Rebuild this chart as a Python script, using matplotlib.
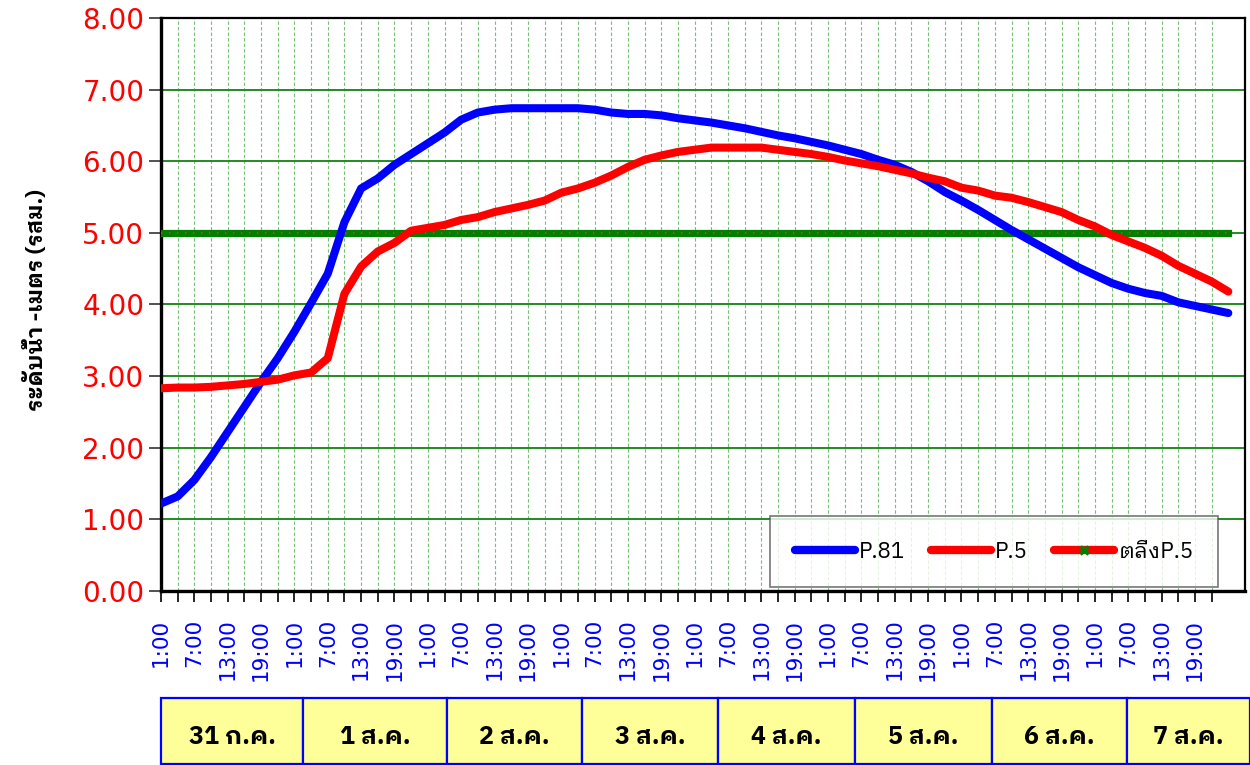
import numpy as np
import matplotlib
matplotlib.use('Agg')
import matplotlib.pyplot as plt
from matplotlib import font_manager
from matplotlib.ft2font import FT2Font
from matplotlib.lines import Line2D
from matplotlib.patches import Rectangle

# hours after 1:00 on 31 Jul, one reading every 3 hours
hours = np.arange(0, 193, 3)

p81 = [1.22, 1.32, 1.55, 1.87, 2.22, 2.57, 2.92, 3.25, 3.62, 4.02, 4.43, 5.15,
       5.62, 5.76, 5.95, 6.10, 6.25, 6.40, 6.58, 6.68, 6.72, 6.74, 6.74, 6.74,
       6.74, 6.74, 6.72, 6.68, 6.66, 6.66, 6.64, 6.60, 6.57, 6.54, 6.50, 6.46,
       6.41, 6.36, 6.32, 6.27, 6.22, 6.16, 6.10, 6.02, 5.95, 5.85, 5.72, 5.57,
       5.45, 5.32, 5.18, 5.04, 4.91, 4.78, 4.65, 4.52, 4.41, 4.30, 4.22, 4.16,
       4.12, 4.03, 3.98, 3.93, 3.88]

p5 = [2.83, 2.84, 2.84, 2.85, 2.87, 2.89, 2.92, 2.95, 3.01, 3.05, 3.25, 4.15,
      4.53, 4.74, 4.86, 5.03, 5.07, 5.11, 5.18, 5.22, 5.29, 5.34, 5.39, 5.45,
      5.56, 5.62, 5.70, 5.80, 5.92, 6.02, 6.08, 6.13, 6.16, 6.19, 6.19, 6.19,
      6.19, 6.16, 6.13, 6.10, 6.06, 6.01, 5.97, 5.93, 5.88, 5.83, 5.77, 5.72,
      5.63, 5.59, 5.52, 5.49, 5.43, 5.36, 5.29, 5.18, 5.09, 4.97, 4.88, 4.79,
      4.68, 4.54, 4.43, 4.32, 4.18]

bank_p5 = 5.00

hour_labels = ['1:00', '7:00', '13:00', '19:00'] * 8
days = ['31 ก.ค.', '1 ส.ค.', '2 ส.ค.', '3 ส.ค.', '4 ส.ค.', '5 ส.ค.', '6 ส.ค.', '7 ส.ค.']
series_names = ['P.81', 'P.5', 'ตลิ่งP.5']

# find a font that has Thai glyphs (and a bold face)
thai, thai_bold = [], []
for f in font_manager.fontManager.ttflist:
    try:
        if ord('ร') not in FT2Font(f.fname).get_charmap():
            continue
    except Exception:
        continue
    if f.name not in thai:
        thai.append(f.name)
    w = f.weight if isinstance(f.weight, int) else font_manager.weight_dict.get(f.weight, 400)
    if w >= 600 and f.name not in thai_bold:
        thai_bold.append(f.name)
order = ['Noto Sans Thai', 'IBM Plex Sans Thai Looped', 'Sarabun', 'Garuda', 'Loma',
         'IBM Plex Sans Thai', 'Tlwg Typo']
preferred = [n for n in order if n in thai_bold] + [n for n in order if n in thai]
thai_font = (preferred + thai_bold + thai + ['DejaVu Sans'])[0]
plt.rcParams['font.family'] = ['DejaVu Sans', thai_font]
thai_family = [thai_font, 'DejaVu Sans']

fig = plt.figure(figsize=(12.5, 7.65), dpi=100)
ax = fig.add_axes([0.1288, 0.2275, 0.8672, 0.749])

ax.plot(hours, np.full(len(hours), bank_p5), color='#008000', lw=5.2, zorder=3)
ax.plot(hours, np.full(len(hours), bank_p5), color='#ff2020', lw=1.6,
        ls=(0, (0.6, 3)), zorder=3)
ax.plot(hours, p81, color='#0000ff', lw=5.8, solid_capstyle='round',
        solid_joinstyle='round', zorder=4)
ax.plot(hours, p5, color='#ff0000', lw=5.8, solid_capstyle='round',
        solid_joinstyle='round', zorder=4)

ax.set_xlim(0, 195)
ax.set_ylim(0, 8)

ax.set_yticks(range(0, 9))
ax.set_yticklabels(['%.2f' % v for v in range(0, 9)], color='#ff0000', fontsize=20)
ax.tick_params(axis='y', direction='out', length=9, width=1.2, color='#333333', pad=3)

ax.set_xticks(np.arange(0, 190, 6))
ax.set_xticklabels(hour_labels, rotation=90, color='#0000ff', fontsize=15.5,
                   va='top')
ax.set_xticks(np.arange(3, 193, 6), minor=True)
ax.tick_params(axis='x', which='both', direction='out', length=8, width=1.2,
               color='black', pad=12)

ax.grid(axis='y', color='#228b22', lw=1.4)
ax.grid(axis='x', which='both', color='#3aa63a', lw=0.8, ls=(0, (3, 2)), alpha=0.7)
ax.set_axisbelow(True)

for side in ['left', 'bottom']:
    ax.spines[side].set_linewidth(2.4)
for side in ['top', 'right']:
    ax.spines[side].set_linewidth(1.6)

fig.text(35 / 1250, 1 - 300 / 765, 'ระดับน้ำ -เมตร (รสม.)', rotation=90,
         ha='center', va='center', fontsize=16, fontweight='bold',
         family=thai_family)

handles = [Line2D([], [], color='#0000ff', lw=6, solid_capstyle='round'),
           Line2D([], [], color='#ff0000', lw=6, solid_capstyle='round'),
           Line2D([], [], color='#ff0000', lw=6, solid_capstyle='round',
                  marker='x', markersize=6, markeredgewidth=2.5,
                  markeredgecolor='#008000', markevery=[1])]
leg = ax.legend(handles, series_names, ncol=3, loc='lower left',
                bbox_to_anchor=(0.562, 0.007, 0.413, 0.129), mode='expand',
                prop={'family': thai_family, 'size': 16},
                frameon=True, fancybox=False, edgecolor='#555555',
                handlelength=2.7, handletextpad=0.2, columnspacing=1.8,
                borderpad=1.1, borderaxespad=0)
leg.get_frame().set_linewidth(1.2)
leg.set_zorder(10)

# date boxes under the axis
edges = [161, 303, 447, 582, 718, 855, 992, 1127, 1250]
W, H = 1250, 765
for i, d in enumerate(days):
    x0 = edges[i] / W
    w = (edges[i + 1] - edges[i]) / W
    fig.patches.append(Rectangle((x0, 1 / H), w, 66 / H, transform=fig.transFigure,
                                 facecolor='#ffff99', edgecolor='#0000ff', lw=1.6))
    fig.text(x0 + w / 2, 1 - 737 / H, d, ha='center', va='center',
             fontsize=18, fontweight='bold', color='black', family=thai_family)

fig.savefig('out.png', dpi=100)
